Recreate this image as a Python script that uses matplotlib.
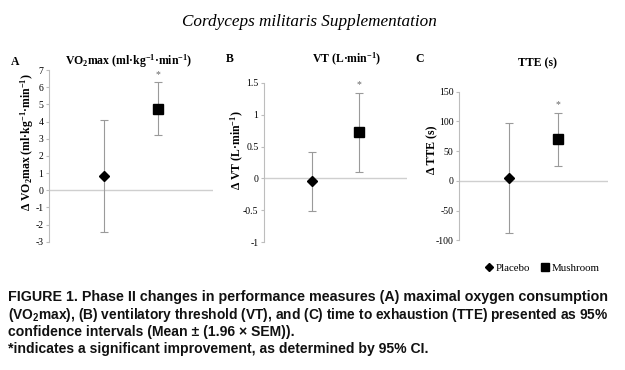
import matplotlib
matplotlib.use('Agg')
import matplotlib.pyplot as plt
from matplotlib.lines import Line2D

# Phase II changes, mean and 95% CI bounds
groups = ['Placebo', 'Mushroom']
vo2_mean = [0.85, 4.75]
vo2_low = [-2.45, 3.2]
vo2_high = [4.1, 6.3]
vt_mean = [-0.04, 0.72]
vt_low = [-0.51, 0.1]
vt_high = [0.42, 1.34]
tte_mean = [5, 70]
tte_low = [-88, 25]
tte_high = [97, 115]

vo2_ticks = [-3, -2, -1, 0, 1, 2, 3, 4, 5, 6, 7]
vt_ticks = [-1, -0.5, 0, 0.5, 1, 1.5]
vt_ticklabels = ['-1', '-0.5', '0', '0.5', '1', '1.5']
tte_ticks = [-100, -50, 0, 50, 100, 150]

plt.rcParams['mathtext.default'] = 'regular'
SERIF = 'Liberation Serif'
SANS = 'Liberation Sans'
GRAY = '#9a9a9a'

fig = plt.figure(figsize=(6.25, 3.7), dpi=100)


def px_box(x0, x1, ytop, ybot):
    return [x0 / 625, 1 - ybot / 370, (x1 - x0) / 625, (ybot - ytop) / 370]


def panel(box, means, lows, highs, ylim, ticks, ticklabels, star_y):
    ax = fig.add_axes(box)
    xs = [1, 2]
    for x, m, lo, hi, mk, ms in zip(xs, means, lows, highs, ['D', 's'], [5, 7]):
        ax.errorbar([x], [m], yerr=[[m - lo], [hi - m]], fmt='none', ecolor=GRAY,
                    elinewidth=0.8, capsize=3, capthick=0.8, zorder=2)
        ax.plot([x], [m], marker=mk, color='black', markersize=ms, linestyle='none', zorder=3)
    ax.text(2, star_y, '*', ha='center', va='center', color='#666666', fontsize=7, family=SERIF)
    ax.axhline(0, color='#cfcfcf', linewidth=1, zorder=1)
    ax.set_xlim(0, 3)
    ax.set_ylim(*ylim)
    ax.set_xticks([])
    ax.set_yticks(ticks)
    ax.set_yticklabels(ticklabels, family=SERIF, fontsize=7)
    for s in ['top', 'right', 'bottom']:
        ax.spines[s].set_visible(False)
    ax.spines['left'].set_color('#bdbdbd')
    ax.tick_params(axis='y', color='#bdbdbd', length=2.5, width=0.8, pad=1.5)
    return ax


panel(px_box(49, 213, 70, 241.7), vo2_mean, vo2_low, vo2_high, (-3, 7),
      vo2_ticks, [str(t) for t in vo2_ticks], 6.75)
panel(px_box(264, 407, 82.7, 242.3), vt_mean, vt_low, vt_high, (-1, 1.5),
      vt_ticks, vt_ticklabels, 1.47)
panel(px_box(459, 608, 91.7, 240.3), tte_mean, tte_low, tte_high, (-100, 150),
      tte_ticks, [str(t) for t in tte_ticks], 128)

# titles, panel letters, y labels
fig.text(309 / 625, 1 - 22 / 370, 'Cordyceps militaris Supplementation', ha='center', va='center',
         family=SERIF, style='italic', fontsize=12.3)
for letter, x, y in [('A', 15, 62), ('B', 230, 59), ('C', 420, 59)]:
    fig.text(x / 625, 1 - y / 370, letter, ha='center', va='center', family=SERIF,
             weight='bold', fontsize=8.5)
for title, x, y in [('VO$_2$max (ml·kg$^{-1}$·min$^{-1}$)', 129, 61),
                    ('VT (L·min$^{-1}$)', 347, 59),
                    ('TTE (s)', 537, 63)]:
    fig.text(x / 625, 1 - y / 370, title, ha='center', va='center', family=SERIF,
             weight='bold', fontsize=8.5)
for lab, x, y in [('Δ VO$_2$max (ml·kg$^{-1}$·min$^{-1}$)', 27, 142),
                  ('Δ VT (L·min$^{-1}$)', 237, 150),
                  ('Δ TTE (s)', 432, 150)]:
    fig.text(x / 625, 1 - y / 370, lab, ha='center', va='center', rotation=90,
             family=SERIF, weight='bold', fontsize=8.5)

handles = [Line2D([], [], marker='D', color='black', markersize=4, linestyle='none'),
           Line2D([], [], marker='s', color='black', markersize=5.5, linestyle='none')]
fig.legend(handles, groups, loc='center', bbox_to_anchor=(542 / 625, 1 - 268 / 370),
           ncol=2, frameon=False, prop={'family': SERIF, 'size': 7.8},
           handletextpad=0.1, columnspacing=0.9, handlelength=1)

caption = ['FIGURE 1. Phase II changes in performance measures (A) maximal oxygen consumption',
           '(VO$_2$max), (B) ventilatory threshold (VT), and (C) time to exhaustion (TTE) presented as 95%',
           'confidence intervals (Mean ± (1.96 × SEM)).',
           '*indicates a significant improvement, as determined by 95% CI.']
for line, y, fs in zip(caption, [297, 314.5, 332, 349], [10.25, 9.9, 10.1, 10.1]):
    fig.text(8 / 625, 1 - y / 370, line, ha='left', va='center', family=SANS,
             weight='bold', fontsize=fs, color='#111111')

fig.savefig('out.png', dpi=100)
